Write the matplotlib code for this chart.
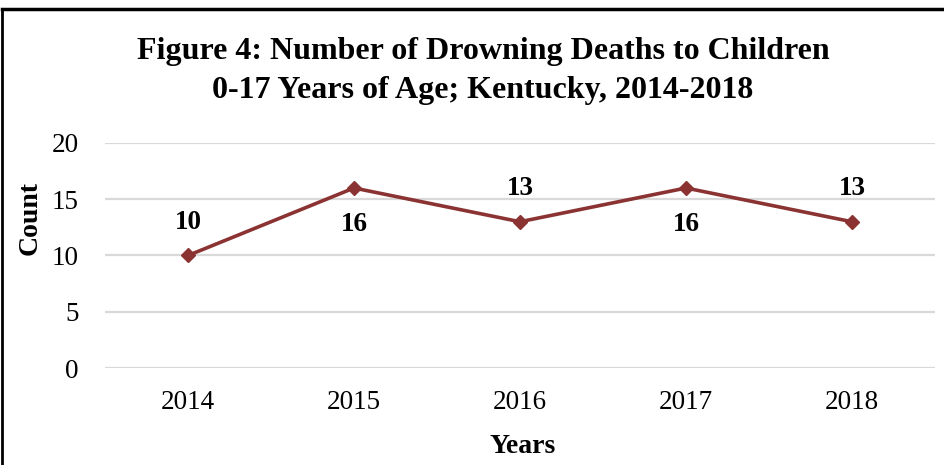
import matplotlib
matplotlib.use("Agg")
import matplotlib.pyplot as plt
from matplotlib.lines import Line2D

years = ["2014", "2015", "2016", "2017", "2018"]
deaths = [10, 16, 13, 16, 13]
label_pos = ["above", "below", "above", "below", "above"]
yticks = [0, 5, 10, 15, 20]

plt.rcParams['font.family'] = ['Liberation Serif', 'DejaVu Serif']

fig = plt.figure(figsize=(9.45, 4.65), dpi=100)
W, H = 945, 465
ax = fig.add_axes([105 / W, 1 - 368 / H, (935 - 105) / W, (368 - 143) / H])

color = '#8B3332'
x = list(range(len(years)))
ax.plot(x, deaths, color=color, linewidth=2.6, marker='D', markersize=7,
        markerfacecolor=color, markeredgecolor=color, zorder=3)

for xi, v, pos in zip(x, deaths, label_pos):
    off = 24 if pos == "above" else -26
    ax.annotate(str(v), (xi, v), xytext=(0, off), textcoords='offset points',
                ha='center', va='center', fontsize=19.5, fontweight='bold')

ax.set_xlim(-0.5, len(years) - 0.5)
ax.set_ylim(0, 20)
ax.set_yticks(yticks)
ax.set_xticks(x)
ax.set_xticklabels(years)
ax.grid(axis='y', color='#d9d9d9', linewidth=1.6)
ax.set_axisbelow(True)
for s in ax.spines.values():
    s.set_visible(False)
ax.tick_params(axis='both', length=0, labelsize=19.5)
ax.tick_params(axis='x', pad=16)
ax.tick_params(axis='y', pad=19)

fig.text(30 / W, 1 - 218 / H, "Count", rotation=90, ha='center', va='center',
         fontsize=20, fontweight='bold')
fig.text(523 / W, 1 - 446 / H, "Years", ha='center', va='center',
         fontsize=20, fontweight='bold')

fig.text(483 / W, 1 - 71 / H,
         "Figure 4: Number of Drowning Deaths to Children\n0-17 Years of Age; Kentucky, 2014-2018",
         ha='center', va='center', fontsize=23, fontweight='bold', linespacing=1.42)

# frame
fig.add_artist(Line2D([2 / W, 2 / W], [0, 1 - 9 / H], transform=fig.transFigure,
                      color='black', linewidth=2))
fig.add_artist(Line2D([2 / W, 1], [1 - 9 / H, 1 - 9 / H], transform=fig.transFigure,
                      color='black', linewidth=2.5))

fig.savefig("out.png", dpi=100)
